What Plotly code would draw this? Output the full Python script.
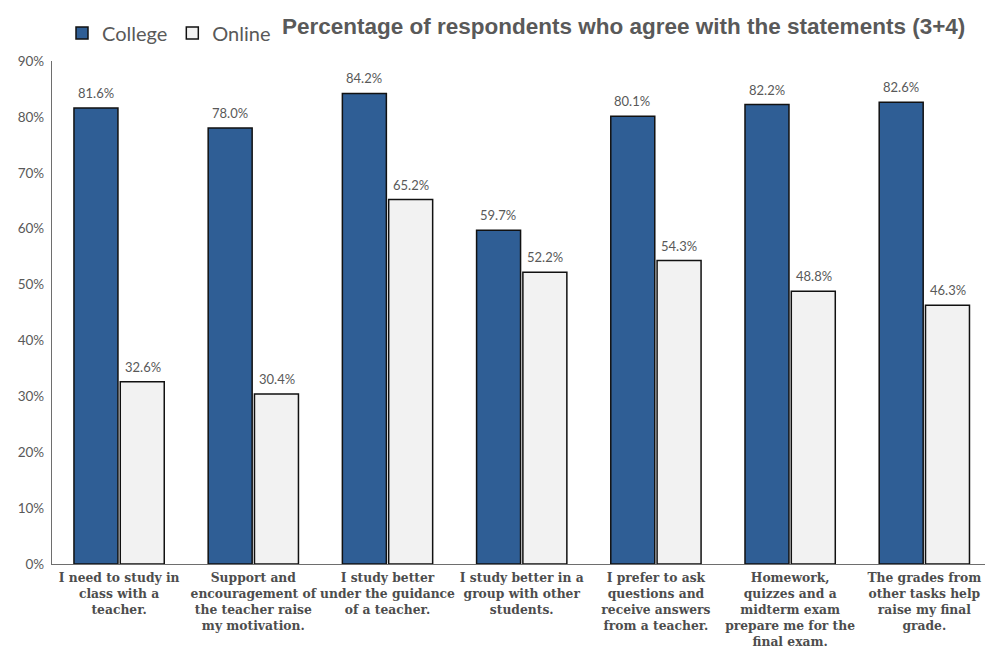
import plotly.graph_objects as go

categories = [
    "I need to study in<br>class with a<br>teacher.",
    "Support and<br>encouragement of<br>the teacher raise<br>my motivation.",
    "I study better<br>under the guidance<br>of a teacher.",
    "I study better in a<br>group with other<br>students.",
    "I prefer to ask<br>questions and<br>receive answers<br>from a teacher.",
    "Homework,<br>quizzes and a<br>midterm exam<br>prepare me for the<br>final exam.",
    "The grades from<br>other tasks help<br>raise my final<br>grade.",
]
college = [0.816, 0.780, 0.842, 0.597, 0.801, 0.822, 0.826]
online = [0.326, 0.304, 0.652, 0.522, 0.543, 0.488, 0.463]
y_ticks = [0, 0.1, 0.2, 0.3, 0.4, 0.5, 0.6, 0.7, 0.8, 0.9]

idx = list(range(len(categories)))
GRAY = "#595959"

fig = go.Figure()
fig.add_trace(go.Bar(
    x=idx, y=college, name="College",
    marker=dict(color="#2F5E95", line=dict(color="#111111", width=1.5)),
))
fig.add_trace(go.Bar(
    x=idx, y=online, name="Online",
    marker=dict(color="#F2F2F2", line=dict(color="#111111", width=1.5)),
))

annotations = []
for i, (c, o) in enumerate(zip(college, online)):
    for val, shift in ((c, -23.5), (o, 23.5)):
        annotations.append(dict(
            x=i, y=val, xref="x", yref="y", text=f"{val*100:.1f}%",
            showarrow=False, xshift=shift, yshift=5, yanchor="bottom",
            font=dict(family="Lato, Open Sans, sans-serif", size=13, color=GRAY),
        ))

fig.update_layout(
    width=985, height=650,
    margin=dict(l=52, r=0, t=61, b=86, autoexpand=False),
    paper_bgcolor="white", plot_bgcolor="white",
    barmode="group", bargap=0.31, bargroupgap=0.05,
    title=dict(
        text="<b>Percentage of respondents who agree with the statements (3+4)</b>",
        font=dict(family="Liberation Sans, Arial, sans-serif", size=22.5, color=GRAY),
        xref="container", yref="container", x=282/985, xanchor="left",
        y=1-26/650, yanchor="middle",
    ),
    legend=dict(
        orientation="h", xref="container", yref="container",
        x=62/985, xanchor="left", y=1-33/650, yanchor="middle",
        font=dict(family="Lato, Open Sans, sans-serif", size=20, color=GRAY),
        itemwidth=30, traceorder="normal",
    ),
    annotations=annotations,
    showlegend=True,
)
fig.update_xaxes(
    range=[-0.5, 6.452], automargin=False,
    tickmode="array", tickvals=idx,
    ticktext=[f"<b>{c}</b>".replace("<br>", "</b><br><b>") for c in categories],
    tickfont=dict(family="DejaVu Serif, serif", size=12.3, color="#4D4D4D"),
    ticklabelstandoff=2,
    showline=True, linecolor="#6E6E6E", linewidth=1.3,
    ticks="", showgrid=False, zeroline=False,
)
fig.update_yaxes(
    range=[0, 0.9], automargin=False,
    tickmode="array", tickvals=y_ticks, tickformat=".0%",
    tickfont=dict(family="Lato, Open Sans, sans-serif", size=13.5, color=GRAY),
    ticklabelstandoff=4,
    showline=True, linecolor="#6E6E6E", linewidth=1.3,
    ticks="", showgrid=False, zeroline=False,
)
fig.write_html("out.html", config={"displayModeBar": False},
               post_script="document.body.style.margin='0px';")
